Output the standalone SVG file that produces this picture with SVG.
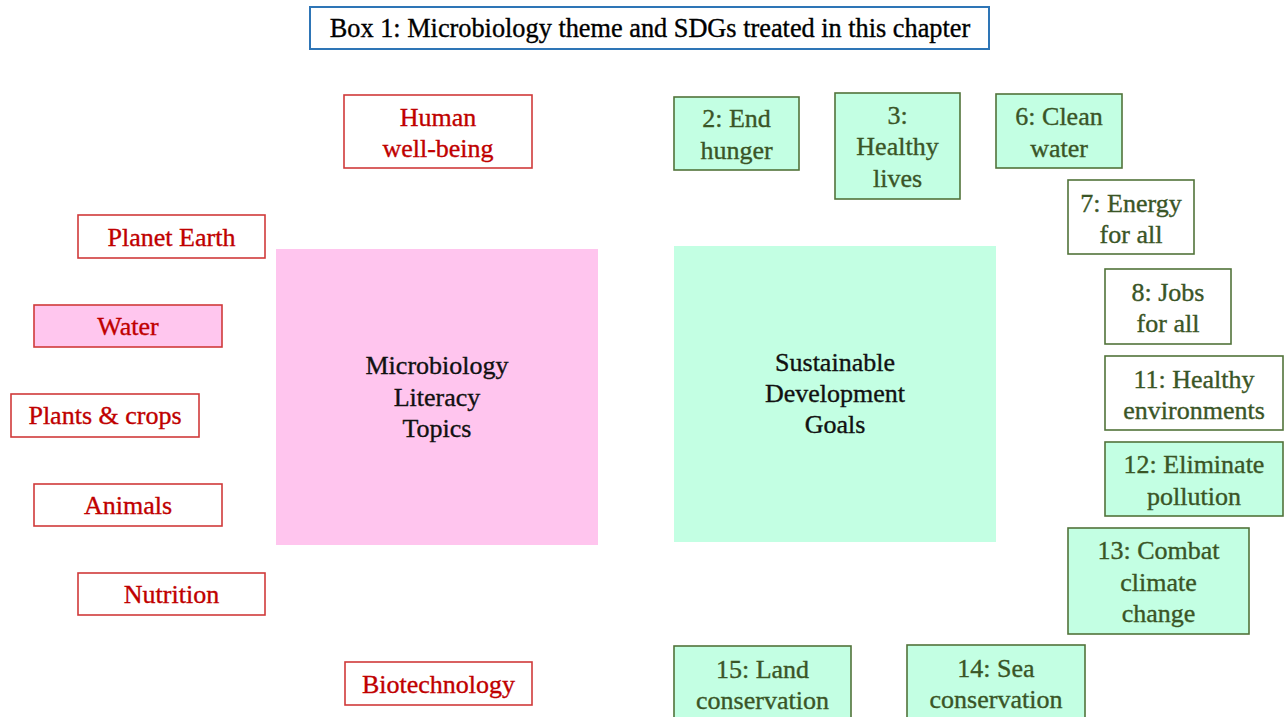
<svg xmlns="http://www.w3.org/2000/svg" width="1287" height="717" viewBox="0 0 1287 717">
  <style>
    text { font-family: "Liberation Serif", "DejaVu Serif", serif; font-size: 26px; text-anchor: middle; stroke-width: 0.35; }
    .title { fill: #ffffff; stroke: #2E75B6; stroke-width: 2; }
    .title-text { fill: #000000; stroke: #000000; font-size: 26.3px; }
    .topic { fill: #ffffff; stroke: #D03A3A; stroke-width: 1.6; }
    .topic-hi { fill: #FFC6EE; stroke: #D03A3A; stroke-width: 1.6; }
    .topic-text { fill: #C00000; stroke: #C00000; }
    .sdg { fill: #C3FFE3; stroke: #52733A; stroke-width: 1.6; }
    .sdg-plain { fill: #ffffff; stroke: #52733A; stroke-width: 1.6; }
    .sdg-text { fill: #3A5526; stroke: #3A5526; }
    .hub-topics { fill: #FFC5EE; }
    .hub-sdg { fill: #C3FFE3; }
    .hub-text { fill: #111111; stroke: #111111; }
  </style>

  <!-- Heading -->
  <g id="heading">
    <rect class="title" x="310" y="7" width="679" height="42"/>
    <text class="title-text" x="650" y="37">Box 1: Microbiology theme and SDGs treated in this chapter</text>
  </g>

  <!-- Central hubs -->
  <g id="hub-topics">
    <rect class="hub-topics" x="276" y="249" width="322" height="296"/>
    <text class="hub-text" x="437" y="374">Microbiology</text>
    <text class="hub-text" x="437" y="406">Literacy</text>
    <text class="hub-text" x="437" y="437">Topics</text>
  </g>
  <g id="hub-sdg">
    <rect class="hub-sdg" x="674" y="246" width="322" height="296"/>
    <text class="hub-text" x="835" y="371">Sustainable</text>
    <text class="hub-text" x="835" y="402">Development</text>
    <text class="hub-text" x="835" y="433">Goals</text>
  </g>

  <!-- Microbiology literacy topics -->
  <g id="topic-human">
    <rect class="topic" x="344" y="95" width="188" height="73"/>
    <text class="topic-text" x="438" y="126">Human</text>
    <text class="topic-text" x="438" y="157">well-being</text>
  </g>
  <g id="topic-planet">
    <rect class="topic" x="78" y="215" width="187" height="43"/>
    <text class="topic-text" x="171.5" y="246">Planet Earth</text>
  </g>
  <g id="topic-water">
    <rect class="topic-hi" x="34" y="305" width="188" height="42"/>
    <text class="topic-text" x="128" y="335">Water</text>
  </g>
  <g id="topic-plants">
    <rect class="topic" x="11" y="394" width="188" height="43"/>
    <text class="topic-text" x="105" y="424">Plants &amp; crops</text>
  </g>
  <g id="topic-animals">
    <rect class="topic" x="34" y="484" width="188" height="42"/>
    <text class="topic-text" x="128" y="514">Animals</text>
  </g>
  <g id="topic-nutrition">
    <rect class="topic" x="78" y="573" width="187" height="42"/>
    <text class="topic-text" x="171.5" y="603">Nutrition</text>
  </g>
  <g id="topic-biotech">
    <rect class="topic" x="345" y="662" width="187" height="43"/>
    <text class="topic-text" x="438.5" y="693">Biotechnology</text>
  </g>

  <!-- Sustainable development goals -->
  <g id="sdg-2">
    <rect class="sdg" x="674" y="97" width="125" height="73"/>
    <text class="sdg-text" x="736.5" y="127">2: End</text>
    <text class="sdg-text" x="736.5" y="159">hunger</text>
  </g>
  <g id="sdg-3">
    <rect class="sdg" x="835" y="93" width="125" height="106"/>
    <text class="sdg-text" x="897.5" y="124">3:</text>
    <text class="sdg-text" x="897.5" y="155">Healthy</text>
    <text class="sdg-text" x="897.5" y="187">lives</text>
  </g>
  <g id="sdg-6">
    <rect class="sdg" x="996" y="94" width="126" height="74"/>
    <text class="sdg-text" x="1059" y="125">6: Clean</text>
    <text class="sdg-text" x="1059" y="157">water</text>
  </g>
  <g id="sdg-7">
    <rect class="sdg-plain" x="1068" y="180" width="126" height="74"/>
    <text class="sdg-text" x="1131" y="212">7: Energy</text>
    <text class="sdg-text" x="1131" y="243">for all</text>
  </g>
  <g id="sdg-8">
    <rect class="sdg-plain" x="1105" y="269" width="126" height="75"/>
    <text class="sdg-text" x="1168" y="301">8: Jobs</text>
    <text class="sdg-text" x="1168" y="332">for all</text>
  </g>
  <g id="sdg-11">
    <rect class="sdg-plain" x="1105" y="356" width="178" height="74"/>
    <text class="sdg-text" x="1194" y="388">11: Healthy</text>
    <text class="sdg-text" x="1194" y="419">environments</text>
  </g>
  <g id="sdg-12">
    <rect class="sdg" x="1105" y="442" width="178" height="74"/>
    <text class="sdg-text" x="1194" y="473">12: Eliminate</text>
    <text class="sdg-text" x="1194" y="505">pollution</text>
  </g>
  <g id="sdg-13">
    <rect class="sdg" x="1068" y="528" width="181" height="106"/>
    <text class="sdg-text" x="1158.5" y="559">13: Combat</text>
    <text class="sdg-text" x="1158.5" y="591">climate</text>
    <text class="sdg-text" x="1158.5" y="622">change</text>
  </g>
  <g id="sdg-15">
    <rect class="sdg" x="674" y="646" width="177" height="80"/>
    <text class="sdg-text" x="762.5" y="678">15: Land</text>
    <text class="sdg-text" x="762.5" y="709">conservation</text>
  </g>
  <g id="sdg-14">
    <rect class="sdg" x="907" y="645" width="178" height="80"/>
    <text class="sdg-text" x="996" y="677">14: Sea</text>
    <text class="sdg-text" x="996" y="708">conservation</text>
  </g>

  <!-- No connectors are drawn between the nodes -->
  <g id="connectors"/>
</svg>
